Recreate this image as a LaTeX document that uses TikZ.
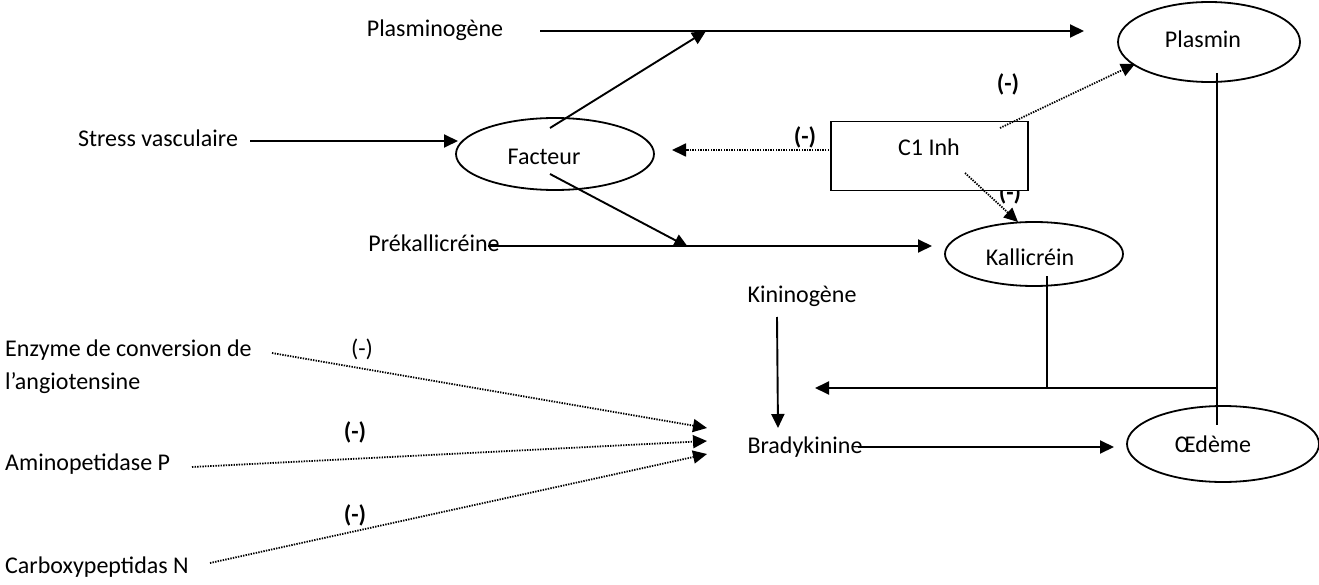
\documentclass[tikz,border=0pt]{standalone}
\usepackage{fontspec}
\setmainfont{Carlito}
\usetikzlibrary{arrows.meta,shapes.geometric}
\begin{document}
\begin{tikzpicture}[x=1pt,y=-1pt,
  every node/.style={font=\fontsize{24}{33}\selectfont, inner sep=0pt},
  ell/.style={ellipse, draw, line width=1.8pt, inner sep=0pt},
  boxc/.style={rectangle, draw, line width=1.8pt, fill=white, inner sep=0pt},
  neg/.style={font=\fontsize{24}{28}\selectfont\bfseries},
  tip/.style={-{Triangle[length=14pt,width=13pt]}},
  solidarr/.style={tip, line width=1.9pt},
  plain/.style={line width=1.9pt},
  dotarr/.style={tip, line width=1.8pt, dash pattern=on 1.4pt off 1.2pt}]
\useasboundingbox (0,0) rectangle (1319,585);

% nodes
\node (plg) at (435,30) {Plasminogène};
\node[ell, minimum width=182, minimum height=80] (plasmin) at (1209,42) {};
\node (plasmint) at (1203,39) {Plasmin};
\node (stress) at (158,138) {Stress vasculaire};
\node[ell, minimum width=198, minimum height=72] (facteur) at (555,154) {};
\node (facteurt) at (544,157) {Facteur};
\node[neg] (n1) at (1010,193) {(-)};
\node[boxc, minimum width=197, minimum height=69] (c1) at (929.5,156) {};
\node (c1t) at (929,147) {C1 Inh};
\node (prek) at (434,243) {Prékallicréine};
\node[ell, minimum width=178, minimum height=64] (kall) at (1034,254) {};
\node (kallt) at (1030,257) {Kallicréin};
\node (kin) at (802,296) {Kininogène};
\node (brady) at (805,447) {Bradykinine};
\node[ell, minimum width=192, minimum height=76] (oed) at (1223,444) {};
\node (oedt) at (1213,444) {Œdème};
\node[anchor=west, align=left] (ece) at (5,367) {Enzyme de conversion de\\l’angiotensine};
\node[anchor=west] (amp) at (5,464) {Aminopetidase P};
\node[anchor=west] (cpn) at (5,567) {Carboxypeptidas N};

% (-) labels
\node (n2) at (362,349) {(-)};
\node[neg] (n3) at (355,432) {(-)};
\node[neg] (n4) at (355,515) {(-)};
\node[neg] (n5) at (805,137) {(-)};
\node[neg] (n6) at (1008,84) {(-)};

% coordinates
\coordinate (p1) at (540,31);
\coordinate (p2) at (1084,31);
\coordinate (fa) at (706,31);
\coordinate (f0) at (550,128);
\coordinate (s1) at (250,141);
\coordinate (s2) at (458,141);
\coordinate (fb0) at (550,174);
\coordinate (fb) at (688,247);
\coordinate (k1) at (488,246);
\coordinate (k2) at (932,246);
\coordinate (c1a) at (829,150);
\coordinate (c1b) at (672,150);
\coordinate (c1c) at (1000,128);
\coordinate (c1d) at (1135,64);
\coordinate (c1e) at (965,173);
\coordinate (c1f) at (1018,222);
\coordinate (kv) at (1047,276);
\coordinate (kj) at (1047,388);
\coordinate (pv) at (1217,73);
\coordinate (pj) at (1217,388);
\coordinate (pe) at (1217,425);
\coordinate (ha) at (815,388);
\coordinate (kn1) at (777,317);
\coordinate (kn2) at (778,428);
\coordinate (b1) at (858,447);
\coordinate (b2) at (1114,447);
\coordinate (e1) at (272,353);
\coordinate (t1) at (707,428);
\coordinate (a1) at (192,467);
\coordinate (t2) at (707,441);
\coordinate (cp1) at (210,563);
\coordinate (t3) at (707,454);

% connectors
\draw[solidarr] (p1) -- (p2);
\draw[solidarr] (f0) -- (fa);
\draw[solidarr] (s1) -- (s2);
\draw[solidarr] (fb0) -- (fb);
\draw[solidarr] (k1) -- (k2);
\draw[dotarr] (c1a) -- (c1b);
\draw[dotarr] (c1c) -- (c1d);
\draw[dotarr] (c1e) -- (c1f);
\draw[plain] (kv) -- (kj);
\draw[plain] (pv) -- (pe);
\draw[solidarr] (pj) -- (ha);
\draw[solidarr] (kn1) -- (kn2);
\draw[solidarr] (b1) -- (b2);
\draw[dotarr] (e1) -- (t1);
\draw[dotarr] (a1) -- (t2);
\draw[dotarr] (cp1) -- (t3);
\end{tikzpicture}
\end{document}
